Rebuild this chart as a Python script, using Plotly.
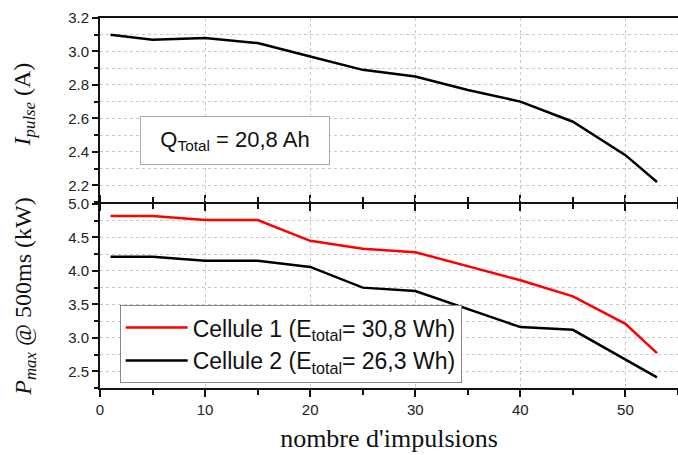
import plotly.graph_objects as go

# Data
x_pulses = [1, 5, 10, 15, 20, 25, 30, 35, 40, 45, 50, 53]
i_pulse = [3.10, 3.07, 3.08, 3.05, 2.97, 2.89, 2.85, 2.77, 2.70, 2.58, 2.38, 2.22]
p_cell1 = [4.82, 4.82, 4.76, 4.76, 4.45, 4.33, 4.28, 4.07, 3.86, 3.62, 3.21, 2.77]
p_cell2 = [4.21, 4.21, 4.15, 4.15, 4.06, 3.75, 3.70, 3.43, 3.16, 3.12, 2.68, 2.41]
cell_names = ["Cellule 1 (E<sub>total</sub>= 30,8 Wh)", "Cellule 2 (E<sub>total</sub>= 26,3 Wh)"]
q_label = "Q<sub>Total</sub> = 20,8 Ah"
x_title = "nombre d'impulsions"
y_top_title = "&nbsp;&nbsp;<i>I</i><sub><i>pulse</i></sub> (A)"
y_bot_title = "<i>P</i><sub><i>max</i></sub> @ 500ms (kW)"

fig = go.Figure()
fig.add_trace(go.Scatter(x=x_pulses, y=i_pulse, mode="lines", line=dict(color="black", width=2.5),
                         xaxis="x2", yaxis="y2", showlegend=False))
fig.add_trace(go.Scatter(x=x_pulses, y=p_cell1, mode="lines", line=dict(color="#ff0000", width=2.5),
                         name=cell_names[0], xaxis="x", yaxis="y"))
fig.add_trace(go.Scatter(x=x_pulses, y=p_cell2, mode="lines", line=dict(color="black", width=2.5),
                         name=cell_names[1], xaxis="x", yaxis="y"))

K = "#111"
tickfont = dict(family="Arial, Liberation Sans", size=15, color="#222")
titlefont = dict(family="Liberation Serif, Times New Roman", size=24, color=K)
grid = dict(gridcolor="#c8c8c8", griddash="3px,3px", gridwidth=1)
gap = 1.0 / 370
top_dom = [0.5 + gap, 1]
bot_dom = [0, 0.5 - gap]
xr = [0, 55]
r_bot = [2.25, 5.0]
r_top = [2.1, 3.2]

xminor = dict(dtick=5, ticklen=5, tickwidth=1.5, tickcolor=K, showgrid=False)

fig.update_layout(
    width=678, height=455,
    margin=dict(l=100, r=0, t=18, b=67),
    plot_bgcolor="white", paper_bgcolor="white",
    # bottom panel x axis
    xaxis=dict(domain=[0, 1], anchor="y", range=xr, dtick=10, tick0=0, automargin=False,
               ticks="outside", ticklen=7, tickwidth=2, tickcolor=K,
               showline=True, linecolor=K, linewidth=2, mirror="ticks",
               tickfont=tickfont, showgrid=True, **grid, zeroline=False,
               minor=dict(ticks="outside", **xminor),
               title=dict(text=x_title, font=dict(family=titlefont["family"], size=26, color=K), standoff=12)),
    yaxis=dict(domain=bot_dom, anchor="x", range=r_bot, dtick=0.5, tick0=2.5, tickformat=".1f",
               automargin=False,
               ticks="outside", ticklen=6, tickwidth=2, tickcolor=K,
               showline=True, linecolor=K, linewidth=2, mirror=True,
               tickfont=tickfont, showgrid=True, **grid, zeroline=False,
               minor=dict(dtick=0.25, tick0=2.5, ticks="outside", ticklen=4, tickwidth=1.5, tickcolor=K,
                          showgrid=True, **grid),
               title=dict(text=y_bot_title, font=titlefont, standoff=30)),
    # top panel x axis
    xaxis2=dict(domain=[0, 1], anchor="y2", range=xr, dtick=10, tick0=0, showticklabels=False,
                automargin=False,
                ticks="outside", ticklen=7, tickwidth=2, tickcolor=K,
                showline=True, linecolor=K, linewidth=2, mirror=True,
                showgrid=True, **grid, zeroline=False,
                minor=dict(ticks="outside", **xminor)),
    yaxis2=dict(domain=top_dom, anchor="x2", range=r_top, dtick=0.2, tick0=2.2, tickformat=".1f",
                automargin=False,
                ticks="outside", ticklen=6, tickwidth=2, tickcolor=K,
                showline=True, linecolor=K, linewidth=2, mirror=True,
                tickfont=tickfont, showgrid=True, **grid, zeroline=False,
                minor=dict(dtick=0.1, tick0=2.2, ticks="outside", ticklen=4, tickwidth=1.5, tickcolor=K,
                           showgrid=True, **grid),
                title=dict(text=y_top_title, font=titlefont, standoff=31)),
    # tick-only overlay axes (top border of top panel, right borders)
    xaxis3=dict(overlaying="x2", anchor="y2", side="top", range=xr, dtick=10, tick0=0,
                showticklabels=False, showline=False, showgrid=False, zeroline=False, automargin=False,
                ticks="inside", ticklen=7, tickwidth=2, tickcolor=K,
                minor=dict(ticks="inside", **xminor)),
    yaxis3=dict(overlaying="y", anchor="x", side="right", range=r_bot, dtick=0.5, tick0=2.5,
                showticklabels=False, showline=False, showgrid=False, zeroline=False, automargin=False,
                ticks="inside", ticklen=6, tickwidth=2, tickcolor=K,
                minor=dict(dtick=0.25, tick0=2.5, ticks="inside", ticklen=4, tickwidth=1.5, tickcolor=K)),
    yaxis4=dict(overlaying="y2", anchor="x2", side="right", range=r_top, dtick=0.2, tick0=2.2,
                showticklabels=False, showline=False, showgrid=False, zeroline=False, automargin=False,
                ticks="inside", ticklen=6, tickwidth=2, tickcolor=K,
                minor=dict(dtick=0.1, tick0=2.2, ticks="inside", ticklen=4, tickwidth=1.5, tickcolor=K)),
    legend=dict(x=0.034, y=0.224, xanchor="left", yanchor="top",
                bordercolor="#888", borderwidth=1, bgcolor="white",
                font=dict(family="Arial, Liberation Sans", size=23, color=K),
                tracegroupgap=0, itemwidth=62),
    annotations=[dict(text=q_label, x=12.85, y=2.47, xref="x2", yref="y2", showarrow=False,
                      font=dict(family="Arial, Liberation Sans", size=22, color=K),
                      bordercolor="#aaa", borderwidth=1, bgcolor="white", width=184, height=43, borderpad=2)],
)

fig.write_html("out.html", config={"displayModeBar": False},
               post_script="document.body.style.margin='0px';document.body.style.overflow='hidden';")
